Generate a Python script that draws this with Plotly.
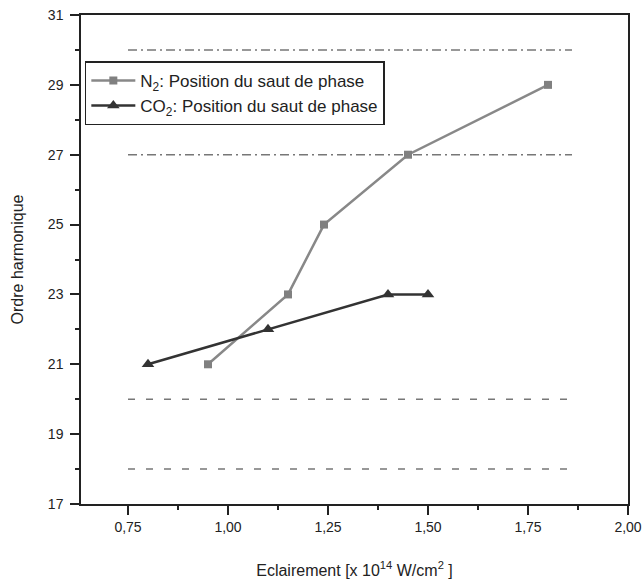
import plotly.graph_objects as go

# Data
n2_x = [0.95, 1.15, 1.24, 1.45, 1.80]
n2_y = [21, 23, 25, 27, 29]
co2_x = [0.80, 1.10, 1.40, 1.50]
co2_y = [21, 22, 23, 23]
dashdot_levels = [30, 27]
dash_levels = [20, 18]
ref_x = [0.75, 1.86]
x_ticks = [0.75, 1.00, 1.25, 1.50, 1.75, 2.00]
y_ticks = [17, 19, 21, 23, 25, 27, 29, 31]

FONT = "Liberation Sans, Arial"

fig = go.Figure()

for lv in dashdot_levels:
    fig.add_trace(go.Scatter(x=ref_x, y=[lv, lv], mode="lines", showlegend=False,
                             line=dict(color="#777777", width=1.5, dash="9px,4px,2px,4px"),
                             hoverinfo="skip"))
for lv in dash_levels:
    fig.add_trace(go.Scatter(x=ref_x, y=[lv, lv], mode="lines", showlegend=False,
                             line=dict(color="#777777", width=1.5, dash="7px,11px"),
                             hoverinfo="skip"))

fig.add_trace(go.Scatter(x=n2_x, y=n2_y, mode="lines+markers",
                         name="N<sub>2</sub>: Position du saut de phase",
                         line=dict(color="#888888", width=2.5),
                         marker=dict(symbol="square", size=8, color="#808080")))
fig.add_trace(go.Scatter(x=co2_x, y=co2_y, mode="lines+markers",
                         name="CO<sub>2</sub>: Position du saut de phase",
                         line=dict(color="#333333", width=2.5),
                         marker=dict(symbol="triangle-up", size=11, color="#333333")))

axis_common = dict(showline=True, linecolor="#222222", linewidth=1.5, mirror=True,
                   showgrid=False, zeroline=False, ticks="outside", ticklen=9,
                   tickcolor="#222222", tickwidth=1.5, automargin=False,
                   tickfont=dict(family=FONT, size=14, color="#222222"))

fig.update_xaxes(range=[0.6325, 2.0], tickvals=x_ticks, tickformat=".2f",
                 minor=dict(dtick=0.125, tick0=0.625, ticklen=4, ticks="outside", tickcolor="#222222"),
                 title=dict(text="Eclairement [x 10<sup>14</sup> W/cm<sup>2</sup> ]",
                            font=dict(family=FONT, size=16, color="#222222"),
                            standoff=31),
                 **axis_common)
fig.update_yaxes(range=[17, 31], tickvals=y_ticks, ticklabelstandoff=4,
                 minor=dict(dtick=1, tick0=17, ticklen=4, ticks="outside", tickcolor="#222222"),
                 title=dict(text="Ordre harmonique",
                            font=dict(family=FONT, size=16, color="#222222"),
                            standoff=20),
                 **axis_common)

fig.update_layout(
    width=643, height=584,
    margin=dict(l=81, r=15, t=15, b=80),
    paper_bgcolor="white", plot_bgcolor="white",
    separators=", ",
    legend=dict(x=0.007, y=0.905, xanchor="left", yanchor="top",
                bordercolor="#222222", borderwidth=1.5, bgcolor="white",
                font=dict(family=FONT, size=17, color="#222222"),
                tracegroupgap=0, itemwidth=44),
)

fig.write_html("out.html", config={"displayModeBar": False},
               post_script="document.body.style.margin='0';")
